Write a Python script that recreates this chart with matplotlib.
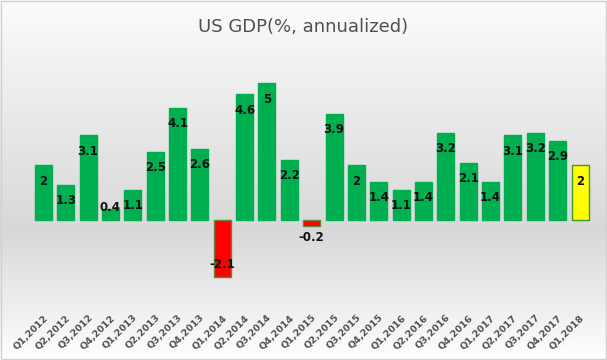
import numpy as np
import matplotlib
matplotlib.use("Agg")
import matplotlib.pyplot as plt
from matplotlib.colors import LinearSegmentedColormap

quarters = [
    "Q1,2012", "Q2,2012", "Q3,2012", "Q4,2012",
    "Q1,2013", "Q2,2013", "Q3,2013", "Q4,2013",
    "Q1,2014", "Q2,2014", "Q3,2014", "Q4,2014",
    "Q1,2015", "Q2,2015", "Q3,2015", "Q4,2015",
    "Q1,2016", "Q2,2016", "Q3,2016", "Q4,2016",
    "Q1,2017", "Q2,2017", "Q3,2017", "Q4,2017",
    "Q1,2018",
]
gdp = [2, 1.3, 3.1, 0.4, 1.1, 2.5, 4.1, 2.6, -2.1, 4.6, 5, 2.2, -0.2,
       3.9, 2, 1.4, 1.1, 1.4, 3.2, 2.1, 1.4, 3.1, 3.2, 2.9, 2]
title = "US GDP(%, annualized)"

fig = plt.figure(figsize=(6.07, 3.6), dpi=100)

# background gradient over whole figure
bg = fig.add_axes([0, 0, 1, 1], zorder=-10)
cmap = LinearSegmentedColormap.from_list(
    "bg", [(0.0, "#fcfcfc"), (0.2, "#f0f0f0"), (0.64, "#d8d8d8"),
           (0.85, "#eeeeee"), (1.0, "#ffffff")])
grad = np.linspace(0, 1, 256).reshape(-1, 1)
bg.imshow(grad, aspect="auto", cmap=cmap, extent=[0, 1, 0, 1], origin="upper")
bg.set_xlim(0, 1)
bg.set_ylim(0, 1)
bg.axis("off")
bg.add_patch(plt.Rectangle((0.001, 0.002), 0.997, 0.995, fill=False,
                           edgecolor="#d0d0d0", linewidth=1.0))

ax = fig.add_axes([0.053, 0.161, 0.921, 0.683])
ax.patch.set_alpha(0)

x = np.arange(len(gdp))
colors = []
edges = []
for i, v in enumerate(gdp):
    if i == len(gdp) - 1:
        colors.append("#ffff00")
        edges.append("#3f9a2a")
    elif v < 0:
        colors.append("#ff0000")
        edges.append("#5e8a3a")
    else:
        colors.append("#00b050")
        edges.append("#00b050")

ax.bar(x, gdp, width=0.76, color=colors, edgecolor=edges, linewidth=1.0, zorder=3)

for xi, v in zip(x, gdp):
    if v >= 0:
        y = max(v - 0.58, 0.47)
    elif v < -1:
        y = v + 0.46
    else:
        y = v - 0.45
    ax.text(xi, y, f"{v:g}", ha="center", va="center", fontsize=8.5,
            fontweight="bold", color="#111111", zorder=4)

ax.set_xlim(-0.5, len(gdp) - 0.5)
ax.set_ylim(-3, 6)
ax.set_yticks([])
ax.set_xticks(x)
ax.set_xticklabels(quarters, rotation=45, ha="right", rotation_mode="anchor",
                   fontsize=6.8, fontweight="bold", color="#505050")
ax.tick_params(axis="x", length=0, pad=8)
for s in ax.spines.values():
    s.set_visible(False)

fig.text(0.5, 0.925, title, ha="center", va="center", fontsize=13, color="#505050")

fig.savefig("out.png", dpi=100)
